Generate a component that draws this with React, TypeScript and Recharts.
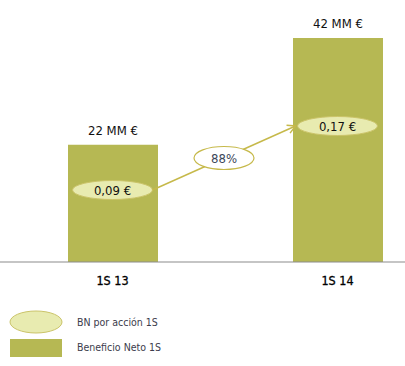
import { ComposedChart, Bar, Line, XAxis, YAxis, LabelList } from 'recharts'

const periods = ['1S 13', '1S 14']
const netProfit = [22, 42] // Beneficio Neto, MM €
const epsValues = [0.09, 0.17] // BN por acción, €
const growthLabel = '88%'

const data = periods.map((period, i) => ({ period, profit: netProfit[i], eps: epsValues[i] }))

const FONT = '"DejaVu Sans Condensed", "DejaVu Sans", sans-serif'
const BAR = '#b6b853'
const OVAL_FILL = '#e8ebb0'
const OVAL_STROKE = '#cbc46a'
const ARROW = '#c6b94a'

const euro = (v: number) => `${v.toFixed(2).replace('.', ',')} €`

// ellipses for the EPS points, plus the growth arrow between them
function makeEpsDot() {
  const pts: { x: number; y: number }[] = []
  const rx = 40
  const ry = 9.5
  // eslint-disable-next-line @typescript-eslint/no-explicit-any
  return (props: any) => {
    const { cx, cy, index, value } = props
    pts[index] = { x: cx, y: cy }
    let arrow = null
    if (index > 0 && pts[index - 1]) {
      const x1 = pts[index - 1].x + rx
      const y1 = pts[index - 1].y
      const x2 = cx - rx - 2
      const y2 = cy
      const ang = Math.atan2(y2 - y1, x2 - x1)
      const len = 9
      const spread = 0.5
      const h1 = `${x2 - len * Math.cos(ang - spread)},${y2 - len * Math.sin(ang - spread)}`
      const h2 = `${x2 - len * Math.cos(ang + spread)},${y2 - len * Math.sin(ang + spread)}`
      const mx = (x1 + x2) / 2
      const my = (y1 + y2) / 2
      arrow = (
        <g>
          <line x1={x1} y1={y1} x2={x2} y2={y2} stroke={ARROW} strokeWidth={1.5} />
          <polyline points={`${h1} ${x2},${y2} ${h2}`} fill="none" stroke={ARROW} strokeWidth={1.5} />
          <ellipse cx={mx} cy={my} rx={30} ry={11.5} fill="#fff" stroke={ARROW} strokeWidth={1.2} />
          <text x={mx} y={my} dy="0.36em" textAnchor="middle" fontSize={13} fill="#3b4658" fontFamily={FONT}>
            {growthLabel}
          </text>
        </g>
      )
    }
    return (
      <g key={`eps-${index}`}>
        {arrow}
        <ellipse cx={cx} cy={cy} rx={rx} ry={ry} fill={OVAL_FILL} stroke={OVAL_STROKE} strokeWidth={1} />
        <text x={cx} y={cy} dy="0.37em" textAnchor="middle" fontSize={13} fill="#111" fontFamily={FONT}>
          {euro(value)}
        </text>
      </g>
    )
  }
}

export default function App() {
  const epsDot = makeEpsDot()
  return (
    <div style={{ position: 'absolute', left: 0, top: 0, width: 405, height: 366, background: '#fff', fontFamily: FONT }}>
      <ComposedChart width={405} height={366} data={data} margin={{ top: 38, right: 0, bottom: 74, left: 0 }}>
        <XAxis
          dataKey="period"
          height={30}
          padding={{ left: 0, right: -45 }}
          axisLine={{ stroke: '#8c8c8c', strokeWidth: 1.2 }}
          tickLine={false}
          tick={{ fontSize: 12.5, fill: '#000', fontFamily: FONT, stroke: '#000', strokeWidth: 0.3 }}
          dy={6}
        />
        <YAxis yAxisId="profit" hide domain={[0, 42]} />
        <YAxis yAxisId="eps" hide orientation="right" domain={[0, 0.28]} />
        <Bar yAxisId="profit" dataKey="profit" fill={BAR} barSize={90} isAnimationActive={false}>
          <LabelList
            dataKey="profit"
            position="top"
            offset={10}
            formatter={(v: number) => `${v} MM €`}
            style={{ fontSize: 13, fill: '#111', fontFamily: FONT }}
          />
        </Bar>
        <Line
          yAxisId="eps"
          dataKey="eps"
          stroke="none"
          dot={epsDot}
          activeDot={false}
          isAnimationActive={false}
        />
      </ComposedChart>
      <div style={{ position: 'absolute', left: 0, top: 308, fontSize: 10.5, color: '#3c3c4c' }}>
        <div style={{ display: 'flex', alignItems: 'center', height: 28 }}>
          <svg width={70} height={28}>
            <ellipse cx={36} cy={14} rx={26} ry={11} fill={OVAL_FILL} stroke={OVAL_STROKE} />
          </svg>
          <span style={{ marginLeft: 7 }}>BN por acción 1S</span>
        </div>
        <div style={{ display: 'flex', alignItems: 'center', height: 22 }}>
          <svg width={70} height={22}>
            <rect x={10} y={3} width={52} height={18} fill={BAR} />
          </svg>
          <span style={{ marginLeft: 7 }}>Beneficio Neto 1S</span>
        </div>
      </div>
    </div>
  )
}
